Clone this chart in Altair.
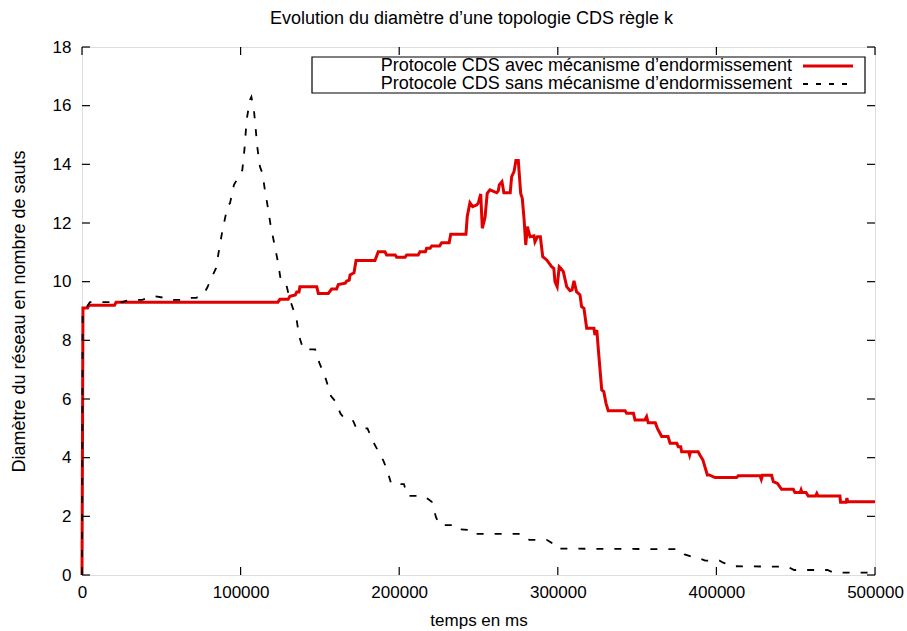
import altair as alt
import pandas as pd

# Diameter (hops) over time (ms), CDS protocol with sleep mechanism
red_t = [0, 600, 3500, 4500, 20500, 21500, 123500, 124800, 130000, 131100, 134500, 135400,
         136800, 137400, 148000, 149000, 155300, 157400, 160500, 161600, 166000, 166900,
         168500, 169000, 171500, 172800, 184700, 186800, 191000, 192100, 197500, 198400,
         203700, 204700, 212000, 213100, 216500, 217300, 219500, 220500, 225500, 226800,
         231500, 232500, 242100, 242900, 244600, 246300, 249000, 250000, 251400, 252400,
         254100, 255500, 257200, 261500, 262500, 263100, 264800, 266000, 270000, 270900,
         272400, 273600, 275100, 276600, 277600, 278700, 279800, 280800, 282500, 285000,
         285600, 287100, 289000, 290500, 293000, 296100, 297500, 298200, 299600, 300900,
         302000, 303500, 305600, 307700, 309000, 310200, 311800, 314000, 315000, 316500,
         318200, 322800, 323400, 324600, 325600, 327700, 329000, 330400, 331800, 342400,
         343400, 347700, 348700, 354800, 356000, 357000, 361500, 362800, 365500, 369500,
         370800, 375000, 376000, 377500, 378100, 382500, 383100, 383600, 388500, 389600,
         391500, 394300, 395500, 399100, 412700, 413800, 427500, 428300, 429000, 434800,
         435900, 438500, 441100, 448500, 449500, 452800, 453400, 454000, 456500, 457900,
         462500, 463300, 464100, 477900, 478300, 481800, 482300, 482800, 500000]
red_v = [0, 9.1, 9.1, 9.2, 9.2, 9.3, 9.3, 9.4, 9.4, 9.5, 9.55, 9.65,
         9.65, 9.83, 9.83, 9.6, 9.6, 9.75, 9.75, 9.9, 9.95, 10.02,
         10.05, 10.23, 10.3, 10.72, 10.72, 11.02, 11.02, 10.91, 10.91, 10.83,
         10.83, 10.91, 10.91, 11.02, 11.02, 11.14, 11.14, 11.22, 11.22, 11.33,
         11.33, 11.62, 11.62, 12.22, 12.69, 12.56, 12.62, 12.7, 12.99, 11.82,
         12.19, 13.01, 13.13, 13.03, 13.1, 13.3, 13.41, 13.03, 13.03, 13.58,
         13.75, 14.13, 14.13, 13.01, 12.84, 12.16, 11.25, 11.88, 11.53, 11.56,
         11.36, 11.53, 11.53, 10.85, 10.74, 10.51, 10.45, 10.0, 9.83, 10.51,
         10.45, 10.34, 9.83, 9.69, 9.72, 10.03, 9.66, 9.55, 9.15, 9.09,
         8.41, 8.41, 8.18, 8.35, 7.67, 6.31, 6.25, 5.85, 5.6, 5.6,
         5.51, 5.51, 5.28, 5.28, 5.4, 5.19, 5.19, 5.0, 4.72, 4.72,
         4.49, 4.49, 4.37, 4.37, 4.2, 4.2, 4.09, 4.2, 4.2, 4.09,
         3.92, 3.41, 3.41, 3.32, 3.32, 3.38, 3.38, 3.26, 3.4, 3.4,
         3.18, 3.12, 2.92, 2.92, 2.81, 2.81, 2.9, 2.81, 2.81, 2.69,
         2.69, 2.78, 2.69, 2.69, 2.48, 2.48, 2.62, 2.5, 2.5]

# Diameter (hops) over time (ms), CDS protocol without sleep mechanism
black_t = [0, 400, 2500, 5000, 25000, 30000, 38000, 40000, 46000, 52000, 56000, 62000,
           66000, 72000, 76500, 79000, 81100, 84500, 86400, 88400, 90600, 92000, 93300,
           95800, 99000, 101100, 102500, 103800, 105900, 106800, 108400, 109400, 110500,
           112200, 113800, 115300, 117100, 118900, 121200, 123500, 125300, 128600, 131100,
           135200, 137000, 139500, 147000, 149600, 153800, 157000, 160000, 163000, 166000,
           171000, 173000, 180000, 183200, 186000, 188300, 190000, 192500, 195000, 203000,
           205000, 215000, 218000, 220500, 223200, 225500, 236000, 238000, 246000, 247500,
           278000, 282000, 293000, 296000, 298500, 377000, 380000, 384000, 390000, 393000,
           402000, 404300, 410000, 445000, 449000, 470000, 474000, 500000]
black_v = [0, 9.0, 9.1, 9.3, 9.3, 9.38, 9.38, 9.42, 9.5, 9.45, 9.38, 9.38,
           9.45, 9.45, 9.55, 9.8, 10.06, 10.46, 11.08, 11.7, 12.27, 12.6, 12.67,
           13.3, 13.6, 13.81, 14.55, 15.51, 16.2, 16.3, 15.85, 15.28, 14.6,
           13.92, 13.69, 13.13, 12.56, 11.93, 11.31, 10.68, 10.06, 9.95, 9.38,
           8.75, 8.12, 7.69, 7.69, 7.24, 6.67, 6.1, 5.9, 5.5, 5.3,
           5.25, 5.0, 5.0, 4.58, 4.3, 4.07, 3.9, 3.56, 3.1, 3.1,
           2.7, 2.7, 2.6, 2.5, 1.97, 1.7, 1.7, 1.56, 1.53, 1.4,
           1.4, 1.2, 1.2, 1.1, 0.9, 0.88, 0.7, 0.63, 0.55, 0.49,
           0.49, 0.42, 0.3, 0.28, 0.17, 0.17, 0.08, 0.08]

x_ticks = [0, 100000, 200000, 300000, 400000, 500000]
y_ticks = [0, 2, 4, 6, 8, 10, 12, 14, 16, 18]

legend_labels = ["Protocole CDS avec mécanisme d’endormissement",
                 "Protocole CDS sans mécanisme d’endormissement"]
chart_title = "Evolution du diamètre d’une topologie CDS règle k"
x_title = "temps en ms"
y_title = "Diamètre du réseau en nombre de sauts"

W, H = 793, 528
FONT = "Liberation Sans"
FS = 17
RED = "#e00000"

red_df = pd.DataFrame({"t": red_t, "v": red_v, "i": range(len(red_t))})
black_df = pd.DataFrame({"t": black_t, "v": black_v, "i": range(len(black_t))})
xt_df = pd.DataFrame({"t": x_ticks})
yt_df = pd.DataFrame({"v": y_ticks})
one = pd.DataFrame({"k": [0]})

x_scale = alt.Scale(domain=[0, 500000], nice=False, zero=False)
y_scale = alt.Scale(domain=[0, 18], nice=False)

x_axis = alt.Axis(values=x_ticks, format="d", ticks=False, domain=False, grid=False,
                  labelFont=FONT, labelFontSize=FS, labelColor="black", labelPadding=9,
                  labelFlush=False, labelOverlap=False,
                  title=x_title, titleFont=FONT, titleFontSize=FS, titleFontWeight="normal",
                  titleColor="black", titlePadding=12)
y_axis = alt.Axis(values=y_ticks, ticks=False, domain=False, grid=False,
                  labelFont=FONT, labelFontSize=FS, labelColor="black", labelPadding=11,
                  labelFlush=False, labelOverlap=False,
                  title=y_title, titleFont=FONT, titleFontSize=18, titleFontWeight="normal",
                  titleColor="black", titlePadding=24)

red_line = alt.Chart(red_df).mark_line(color=RED, strokeWidth=3).encode(
    x=alt.X("t:Q", scale=x_scale, axis=x_axis),
    y=alt.Y("v:Q", scale=y_scale, axis=y_axis),
    order="i:Q",
)
black_line = alt.Chart(black_df).mark_line(color="black", strokeWidth=1.8,
                                           strokeDash=[7, 11]).encode(
    x="t:Q", y="v:Q", order="i:Q"
)

# inward ticks on all four sides of the frame
tick_len = 8
bottom_ticks = alt.Chart(xt_df).mark_rule(color="black", strokeWidth=1.2).encode(
    x="t:Q", y=alt.value(H), y2=alt.value(H - tick_len))
top_ticks = alt.Chart(xt_df).mark_rule(color="black", strokeWidth=1.2).encode(
    x="t:Q", y=alt.value(0), y2=alt.value(tick_len))
left_ticks = alt.Chart(yt_df).mark_rule(color="black", strokeWidth=1.2).encode(
    y="v:Q", x=alt.value(0), x2=alt.value(tick_len))
right_ticks = alt.Chart(yt_df).mark_rule(color="black", strokeWidth=1.2).encode(
    y="v:Q", x=alt.value(W), x2=alt.value(W - tick_len))

# key box in the upper right corner, labels left of their line samples
KEY_FS = 18
key_box = alt.Chart(one).mark_rect(fill="white", stroke="black", strokeWidth=1.2).encode(
    x=alt.value(230), x2=alt.value(783), y=alt.value(10), y2=alt.value(46))
key_text1 = alt.Chart(pd.DataFrame({"label": [legend_labels[0]]})).mark_text(
    align="right", baseline="middle", font=FONT, fontSize=KEY_FS, color="black").encode(
    text="label:N", x=alt.value(710), y=alt.value(19))
key_text2 = alt.Chart(pd.DataFrame({"label": [legend_labels[1]]})).mark_text(
    align="right", baseline="middle", font=FONT, fontSize=KEY_FS, color="black").encode(
    text="label:N", x=alt.value(710), y=alt.value(37))
key_red = alt.Chart(one).mark_rule(color=RED, strokeWidth=3).encode(
    x=alt.value(721), x2=alt.value(771), y=alt.value(19))
key_black = alt.Chart(one).mark_rule(color="black", strokeWidth=1.8, strokeDash=[5, 8]).encode(
    x=alt.value(721), x2=alt.value(771), y=alt.value(37))

chart = alt.layer(
    red_line, black_line,
    bottom_ticks, top_ticks, left_ticks, right_ticks,
    key_box, key_text1, key_text2, key_red, key_black,
).properties(
    width=W, height=H,
    title=alt.TitleParams(chart_title, font=FONT, fontSize=18, fontWeight="normal",
                          color="black", anchor="middle", offset=10, dx=-7),
    autosize=alt.AutoSizeParams(type="none"),
    padding={"left": 82, "top": 47, "right": 32, "bottom": 56},
).configure_view(
    stroke="black", strokeWidth=1.5
).configure(background="white")

chart.save("out.html", embed_options={"renderer": "svg", "actions": False})
